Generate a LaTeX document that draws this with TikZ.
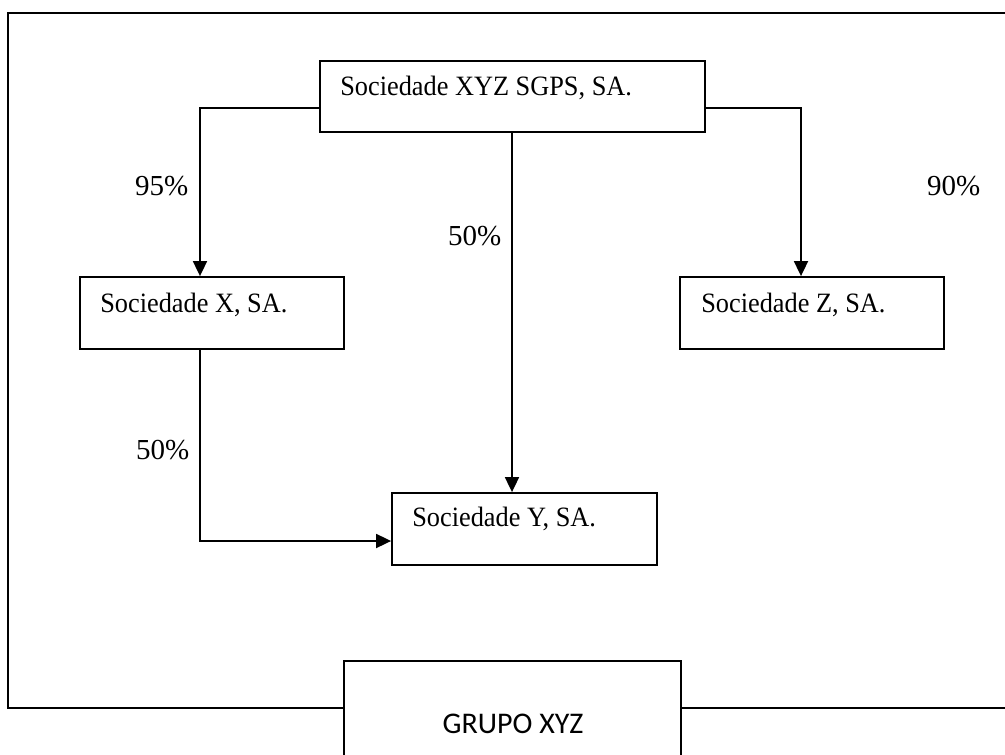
\documentclass[tikz,border=0pt]{standalone}
\usepackage{fontspec}
\setmainfont{Liberation Serif}
\newfontfamily\boxfont[FakeStretch=0.94]{Liberation Serif}
\newfontfamily\grpfont{Carlito}
\usetikzlibrary{arrows.meta,calc}
\begin{document}
\begin{tikzpicture}[x=1pt,y=-1pt,
  ln/.style={line width=1.8pt},
  box/.style={draw,ln,rectangle,inner sep=0pt,fill=white},
  arr/.style={ln,-{Triangle[length=15pt,width=14pt]}},
  btxt/.style={anchor=base west,inner sep=0pt,font=\boxfont\fontsize{28}{30}\selectfont},
  pct/.style={anchor=base west,inner sep=0pt,font=\fontsize{29}{31}\selectfont}]
\useasboundingbox (0,0) rectangle (1005,755);
% outer frame
\coordinate (ftr) at (1012,13);
\coordinate (ftl) at (8,13);
\coordinate (fbl) at (8,708);
\coordinate (fbr) at (1012,708);
% boxes
\node[box,minimum width=385pt,minimum height=71pt] (T) at (512.5,96.5) {};
\node[box,minimum width=264pt,minimum height=72pt] (X) at (212,313) {};
\node[box,minimum width=264pt,minimum height=72pt] (Z) at (812,313) {};
\node[box,minimum width=265pt,minimum height=72pt] (Y) at (524.5,529) {};
\node[box,minimum width=337pt,minimum height=110pt] (G) at (512.5,716) {};
\draw[ln] (G.west |- fbl) -- (fbl) -- (ftl) -- (ftr);
\draw[ln] (G.east |- fbr) -- (fbr);
% texts
\node[btxt] (tT) at ($(T.north west)+(21,35)$) {Sociedade XYZ SGPS, SA.};
\node[btxt] (tX) at ($(X.north west)+(21,36)$) {Sociedade X, SA.};
\node[btxt] (tZ) at ($(Z.north west)+(22,36)$) {Sociedade Z, SA.};
\node[btxt] (tY) at ($(Y.north west)+(21,34)$) {Sociedade Y, SA.};
\node[anchor=base,inner sep=0pt,font=\grpfont\fontsize{30}{32}\selectfont] (tG) at (513,733) {GRUPO XYZ};
% connectors
\coordinate (cT) at ($(T.south)+(-0.5,0)$);
\draw[arr] ($(T.west)+(0,11.5)$) -| ($(X.north)+(-12,0)$);
\draw[arr] ($(T.east)+(0,11.5)$) -| ($(Z.north)+(-11,0)$);
\draw[arr] (cT) -- (cT |- Y.north);
\draw[arr] ($(X.south)+(-12,0)$) |- ($(Y.west)+(0,12)$);
% percentages
\node[pct] (p95) at (135,195) {95\%};
\node[pct] (p90) at (927,195) {90\%};
\node[pct] (p50a) at (448,245) {50\%};
\node[pct] (p50b) at (136,459) {50\%};
\end{tikzpicture}
\end{document}
